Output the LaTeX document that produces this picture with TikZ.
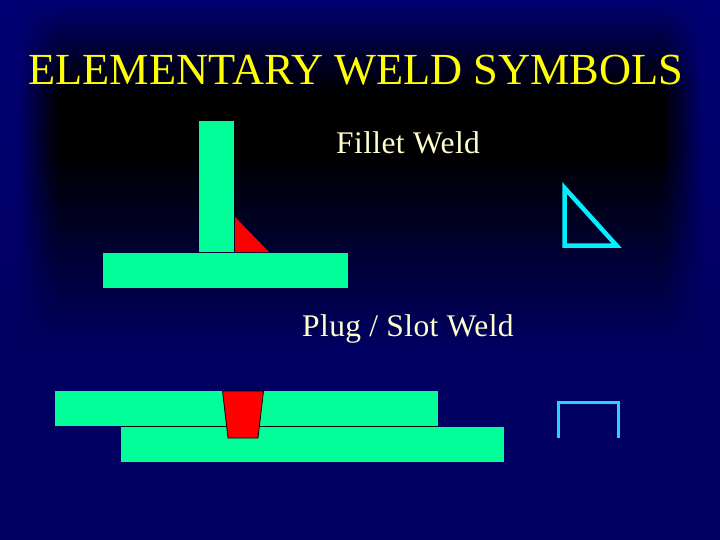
\documentclass[tikz,border=0pt]{standalone}
\usepackage{fontspec}
\setmainfont{Liberation Serif}
\usetikzlibrary{fadings}
\definecolor{navytop}{RGB}{0,0,116}
\definecolor{navybot}{RGB}{0,0,96}
\definecolor{plate}{RGB}{0,255,153}
\definecolor{weld}{RGB}{255,0,0}
\definecolor{titlecol}{RGB}{255,255,0}
\definecolor{labelcol}{RGB}{255,255,204}
\definecolor{symA}{RGB}{0,240,255}
\definecolor{symB}{RGB}{40,210,255}
\tikzfading[name=fadeL,left color=transparent!0,right color=transparent!100]
\tikzfading[name=fadeR,left color=transparent!100,right color=transparent!0]
\newfontfamily\labelfont[LetterSpace=1.3]{Liberation Serif}
\tikzset{
  plateshape/.style={fill=plate,draw=none},
  weldshape/.style={fill=weld,draw=black,line width=0.8pt,line join=miter},
  label/.style={text=labelcol,font=\labelfont\fontsize{31.5}{34}\selectfont,inner sep=0pt,anchor=base west},
}
\begin{document}
\begin{tikzpicture}[x=1pt,y=-1pt]
\useasboundingbox (0,0) rectangle (720,540);
% background
\fill[navybot] (0,0) rectangle (720,540);
\shade[top color=navytop,bottom color=black] (0,0) rectangle (720,92);
\fill[black] (0,92) rectangle (720,150);
\shade[top color=black,bottom color=navybot] (0,150) rectangle (720,345);
\shade[top color=navytop,bottom color=navybot,path fading=fadeL] (18,0) rectangle (58,345);
\shade[top color=navytop,bottom color=navybot,path fading=fadeR] (662,0) rectangle (702,345);
\shade[top color=navytop,bottom color=navybot] (0,0) rectangle (18,345);
\shade[top color=navytop,bottom color=navybot] (702,0) rectangle (720,345);
% title
\node[text=titlecol,font=\fontsize{44.4}{48}\selectfont,inner sep=0pt,anchor=base] (title) at (356,85) {ELEMENTARY WELD SYMBOLS};
% fillet
\fill[plateshape] (199,121) rectangle (234,252);
\fill[plateshape] (103,253) rectangle (348,288);
\fill[weld] (235,217) -- (235,252) -- (269,252) -- cycle;
\node[label] (fillet) at (336,154) {Fillet Weld};
\draw[symA,line width=4.5pt,line join=miter,miter limit=10] (564.5,187.9) -- (564.5,245.7) -- (616.7,245.7) -- cycle;
% plug
\node[label] (plug) at (302,336) {Plug / Slot Weld};
\fill[plateshape] (55,391) rectangle (438,426);
\fill[plateshape] (121,427) rectangle (504,462);
\fill[black] (121,426) rectangle (438,427);
\draw[weldshape] (222.5,391) -- (228,438) -- (258,438) -- (263.5,391) -- cycle;
\draw[symB,line width=3pt,line join=miter] (558.5,438) -- (558.5,402.7) -- (618.7,402.7) -- (618.7,438);
\end{tikzpicture}
\end{document}
